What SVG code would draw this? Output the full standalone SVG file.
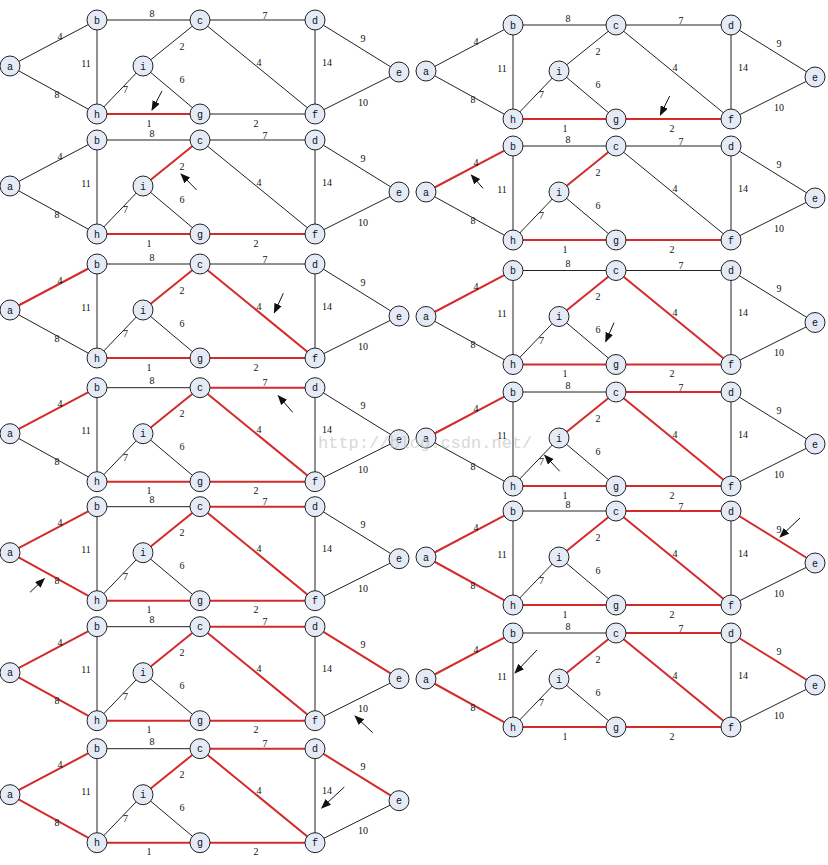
<svg xmlns="http://www.w3.org/2000/svg" width="828" height="865" viewBox="0 0 828 865">
<style>
.e{stroke:#222;stroke-width:1;fill:none}
.r{stroke:#d42a2a;stroke-width:2;fill:none}
.node circle{fill:#e4ebf7;stroke:#222;stroke-width:1}
.node text{font-family:"Liberation Mono",monospace;font-size:10px;text-anchor:middle;fill:#111}
.w{font-family:"Liberation Serif",serif;font-size:10px;text-anchor:middle;fill:#111}
.ar{stroke:#111;stroke-width:1;fill:none;marker-end:url(#head)}
.wm{font-family:"Liberation Mono",monospace;font-size:17px;fill:#c8c8c8;opacity:0.7}
</style>
<defs>
<marker id="head" viewBox="0 0 10 8" markerWidth="10" markerHeight="8" refX="9" refY="4" orient="auto" markerUnits="userSpaceOnUse"><path d="M0,0 L10,4 L0,8 z" fill="#111"/></marker>
<g id="wts">
<text class="w" x="152" y="16.5">8</text><text class="w" x="265" y="18.5">7</text><text class="w" x="60" y="39.5">4</text><text class="w" x="86" y="66.5">11</text><text class="w" x="182" y="49.5">2</text><text class="w" x="259" y="65.5">4</text><text class="w" x="327" y="65.5">14</text><text class="w" x="363" y="41.5">9</text><text class="w" x="57" y="97.5">8</text><text class="w" x="125.5" y="93">7</text><text class="w" x="182" y="82.5">6</text><text class="w" x="363" y="105.5">10</text><text class="w" x="149" y="126.5">1</text><text class="w" x="256" y="126.5">2</text>
</g>
</defs>
<rect width="828" height="865" fill="#fff"/>

<!-- Step 1 -->
<g id="step1" transform="translate(0,0)">
<g id="step1-connectors">
<line class="e" x1="10" y1="66" x2="97" y2="20"/><line class="e" x1="10" y1="66" x2="97" y2="114"/><line class="e" x1="97" y1="20" x2="200" y2="20"/><line class="e" x1="97" y1="20" x2="97" y2="114"/><line class="e" x1="200" y1="20" x2="315" y2="20"/><line class="e" x1="200" y1="20" x2="143" y2="66"/><line class="e" x1="200" y1="20" x2="315" y2="114"/><line class="e" x1="315" y1="20" x2="399" y2="72"/><line class="e" x1="315" y1="20" x2="315" y2="114"/><line class="e" x1="399" y1="72" x2="315" y2="114"/><line class="e" x1="97" y1="114" x2="143" y2="66"/><line class="r" x1="97" y1="114" x2="200" y2="114"/><line class="e" x1="143" y1="66" x2="200" y2="114"/><line class="e" x1="200" y1="114" x2="315" y2="114"/>
<path class="ar" d="M162,91 L152,110"/>
</g>
<use href="#wts"/>
<g id="s1-a" class="node"><circle cx="10" cy="66" r="10"/><text x="10" y="69.5">a</text></g>
<g id="s1-b" class="node"><circle cx="97" cy="20" r="10"/><text x="97" y="23.5">b</text></g>
<g id="s1-c" class="node"><circle cx="200" cy="20" r="10"/><text x="200" y="23.5">c</text></g>
<g id="s1-d" class="node"><circle cx="315" cy="20" r="10"/><text x="315" y="23.5">d</text></g>
<g id="s1-e" class="node"><circle cx="399" cy="72" r="10"/><text x="399" y="75.5">e</text></g>
<g id="s1-i" class="node"><circle cx="143" cy="66" r="10"/><text x="143" y="69.5">i</text></g>
<g id="s1-h" class="node"><circle cx="97" cy="114" r="10"/><text x="97" y="117.5">h</text></g>
<g id="s1-g" class="node"><circle cx="200" cy="114" r="10"/><text x="200" y="117.5">g</text></g>
<g id="s1-f" class="node"><circle cx="315" cy="114" r="10"/><text x="315" y="117.5">f</text></g>
</g>

<!-- Step 2 -->
<g id="step2" transform="translate(416,5)">
<g id="step2-connectors">
<line class="e" x1="10" y1="66" x2="97" y2="20"/><line class="e" x1="10" y1="66" x2="97" y2="114"/><line class="e" x1="97" y1="20" x2="200" y2="20"/><line class="e" x1="97" y1="20" x2="97" y2="114"/><line class="e" x1="200" y1="20" x2="315" y2="20"/><line class="e" x1="200" y1="20" x2="143" y2="66"/><line class="e" x1="200" y1="20" x2="315" y2="114"/><line class="e" x1="315" y1="20" x2="399" y2="72"/><line class="e" x1="315" y1="20" x2="315" y2="114"/><line class="e" x1="399" y1="72" x2="315" y2="114"/><line class="e" x1="97" y1="114" x2="143" y2="66"/><line class="r" x1="97" y1="114" x2="200" y2="114"/><line class="e" x1="143" y1="66" x2="200" y2="114"/><line class="r" x1="200" y1="114" x2="315" y2="114"/>
<path class="ar" d="M253.7,91 L244.3,110"/>
</g>
<use href="#wts"/>
<g id="s2-a" class="node"><circle cx="10" cy="66" r="10"/><text x="10" y="69.5">a</text></g>
<g id="s2-b" class="node"><circle cx="97" cy="20" r="10"/><text x="97" y="23.5">b</text></g>
<g id="s2-c" class="node"><circle cx="200" cy="20" r="10"/><text x="200" y="23.5">c</text></g>
<g id="s2-d" class="node"><circle cx="315" cy="20" r="10"/><text x="315" y="23.5">d</text></g>
<g id="s2-e" class="node"><circle cx="399" cy="72" r="10"/><text x="399" y="75.5">e</text></g>
<g id="s2-i" class="node"><circle cx="143" cy="66" r="10"/><text x="143" y="69.5">i</text></g>
<g id="s2-h" class="node"><circle cx="97" cy="114" r="10"/><text x="97" y="117.5">h</text></g>
<g id="s2-g" class="node"><circle cx="200" cy="114" r="10"/><text x="200" y="117.5">g</text></g>
<g id="s2-f" class="node"><circle cx="315" cy="114" r="10"/><text x="315" y="117.5">f</text></g>
</g>

<!-- Step 3 -->
<g id="step3" transform="translate(0,120)">
<g id="step3-connectors">
<line class="e" x1="10" y1="66" x2="97" y2="20"/><line class="e" x1="10" y1="66" x2="97" y2="114"/><line class="e" x1="97" y1="20" x2="200" y2="20"/><line class="e" x1="97" y1="20" x2="97" y2="114"/><line class="e" x1="200" y1="20" x2="315" y2="20"/><line class="r" x1="200" y1="20" x2="143" y2="66"/><line class="e" x1="200" y1="20" x2="315" y2="114"/><line class="e" x1="315" y1="20" x2="399" y2="72"/><line class="e" x1="315" y1="20" x2="315" y2="114"/><line class="e" x1="399" y1="72" x2="315" y2="114"/><line class="e" x1="97" y1="114" x2="143" y2="66"/><line class="r" x1="97" y1="114" x2="200" y2="114"/><line class="e" x1="143" y1="66" x2="200" y2="114"/><line class="r" x1="200" y1="114" x2="315" y2="114"/>
<path class="ar" d="M196.7,70 L181,54"/>
</g>
<use href="#wts"/>
<g id="s3-a" class="node"><circle cx="10" cy="66" r="10"/><text x="10" y="69.5">a</text></g>
<g id="s3-b" class="node"><circle cx="97" cy="20" r="10"/><text x="97" y="23.5">b</text></g>
<g id="s3-c" class="node"><circle cx="200" cy="20" r="10"/><text x="200" y="23.5">c</text></g>
<g id="s3-d" class="node"><circle cx="315" cy="20" r="10"/><text x="315" y="23.5">d</text></g>
<g id="s3-e" class="node"><circle cx="399" cy="72" r="10"/><text x="399" y="75.5">e</text></g>
<g id="s3-i" class="node"><circle cx="143" cy="66" r="10"/><text x="143" y="69.5">i</text></g>
<g id="s3-h" class="node"><circle cx="97" cy="114" r="10"/><text x="97" y="117.5">h</text></g>
<g id="s3-g" class="node"><circle cx="200" cy="114" r="10"/><text x="200" y="117.5">g</text></g>
<g id="s3-f" class="node"><circle cx="315" cy="114" r="10"/><text x="315" y="117.5">f</text></g>
</g>

<!-- Step 4 -->
<g id="step4" transform="translate(416,126)">
<g id="step4-connectors">
<line class="r" x1="10" y1="66" x2="97" y2="20"/><line class="e" x1="10" y1="66" x2="97" y2="114"/><line class="e" x1="97" y1="20" x2="200" y2="20"/><line class="e" x1="97" y1="20" x2="97" y2="114"/><line class="e" x1="200" y1="20" x2="315" y2="20"/><line class="r" x1="200" y1="20" x2="143" y2="66"/><line class="e" x1="200" y1="20" x2="315" y2="114"/><line class="e" x1="315" y1="20" x2="399" y2="72"/><line class="e" x1="315" y1="20" x2="315" y2="114"/><line class="e" x1="399" y1="72" x2="315" y2="114"/><line class="e" x1="97" y1="114" x2="143" y2="66"/><line class="r" x1="97" y1="114" x2="200" y2="114"/><line class="e" x1="143" y1="66" x2="200" y2="114"/><line class="r" x1="200" y1="114" x2="315" y2="114"/>
<path class="ar" d="M67,62.3 L55.3,49"/>
</g>
<use href="#wts"/>
<g id="s4-a" class="node"><circle cx="10" cy="66" r="10"/><text x="10" y="69.5">a</text></g>
<g id="s4-b" class="node"><circle cx="97" cy="20" r="10"/><text x="97" y="23.5">b</text></g>
<g id="s4-c" class="node"><circle cx="200" cy="20" r="10"/><text x="200" y="23.5">c</text></g>
<g id="s4-d" class="node"><circle cx="315" cy="20" r="10"/><text x="315" y="23.5">d</text></g>
<g id="s4-e" class="node"><circle cx="399" cy="72" r="10"/><text x="399" y="75.5">e</text></g>
<g id="s4-i" class="node"><circle cx="143" cy="66" r="10"/><text x="143" y="69.5">i</text></g>
<g id="s4-h" class="node"><circle cx="97" cy="114" r="10"/><text x="97" y="117.5">h</text></g>
<g id="s4-g" class="node"><circle cx="200" cy="114" r="10"/><text x="200" y="117.5">g</text></g>
<g id="s4-f" class="node"><circle cx="315" cy="114" r="10"/><text x="315" y="117.5">f</text></g>
</g>

<!-- Step 5 -->
<g id="step5" transform="translate(0,244)">
<g id="step5-connectors">
<line class="r" x1="10" y1="66" x2="97" y2="20"/><line class="e" x1="10" y1="66" x2="97" y2="114"/><line class="e" x1="97" y1="20" x2="200" y2="20"/><line class="e" x1="97" y1="20" x2="97" y2="114"/><line class="e" x1="200" y1="20" x2="315" y2="20"/><line class="r" x1="200" y1="20" x2="143" y2="66"/><line class="r" x1="200" y1="20" x2="315" y2="114"/><line class="e" x1="315" y1="20" x2="399" y2="72"/><line class="e" x1="315" y1="20" x2="315" y2="114"/><line class="e" x1="399" y1="72" x2="315" y2="114"/><line class="e" x1="97" y1="114" x2="143" y2="66"/><line class="r" x1="97" y1="114" x2="200" y2="114"/><line class="e" x1="143" y1="66" x2="200" y2="114"/><line class="r" x1="200" y1="114" x2="315" y2="114"/>
<path class="ar" d="M283.3,49.3 L274.3,68.7"/>
</g>
<use href="#wts"/>
<g id="s5-a" class="node"><circle cx="10" cy="66" r="10"/><text x="10" y="69.5">a</text></g>
<g id="s5-b" class="node"><circle cx="97" cy="20" r="10"/><text x="97" y="23.5">b</text></g>
<g id="s5-c" class="node"><circle cx="200" cy="20" r="10"/><text x="200" y="23.5">c</text></g>
<g id="s5-d" class="node"><circle cx="315" cy="20" r="10"/><text x="315" y="23.5">d</text></g>
<g id="s5-e" class="node"><circle cx="399" cy="72" r="10"/><text x="399" y="75.5">e</text></g>
<g id="s5-i" class="node"><circle cx="143" cy="66" r="10"/><text x="143" y="69.5">i</text></g>
<g id="s5-h" class="node"><circle cx="97" cy="114" r="10"/><text x="97" y="117.5">h</text></g>
<g id="s5-g" class="node"><circle cx="200" cy="114" r="10"/><text x="200" y="117.5">g</text></g>
<g id="s5-f" class="node"><circle cx="315" cy="114" r="10"/><text x="315" y="117.5">f</text></g>
</g>

<!-- Step 6 -->
<g id="step6" transform="translate(416,250.5)">
<g id="step6-connectors">
<line class="r" x1="10" y1="66" x2="97" y2="20"/><line class="e" x1="10" y1="66" x2="97" y2="114"/><line class="e" x1="97" y1="20" x2="200" y2="20"/><line class="e" x1="97" y1="20" x2="97" y2="114"/><line class="e" x1="200" y1="20" x2="315" y2="20"/><line class="r" x1="200" y1="20" x2="143" y2="66"/><line class="r" x1="200" y1="20" x2="315" y2="114"/><line class="e" x1="315" y1="20" x2="399" y2="72"/><line class="e" x1="315" y1="20" x2="315" y2="114"/><line class="e" x1="399" y1="72" x2="315" y2="114"/><line class="e" x1="97" y1="114" x2="143" y2="66"/><line class="r" x1="97" y1="114" x2="200" y2="114"/><line class="e" x1="143" y1="66" x2="200" y2="114"/><line class="r" x1="200" y1="114" x2="315" y2="114"/>
<path class="ar" d="M198,72.2 L189.7,91.2"/>
</g>
<use href="#wts"/>
<g id="s6-a" class="node"><circle cx="10" cy="66" r="10"/><text x="10" y="69.5">a</text></g>
<g id="s6-b" class="node"><circle cx="97" cy="20" r="10"/><text x="97" y="23.5">b</text></g>
<g id="s6-c" class="node"><circle cx="200" cy="20" r="10"/><text x="200" y="23.5">c</text></g>
<g id="s6-d" class="node"><circle cx="315" cy="20" r="10"/><text x="315" y="23.5">d</text></g>
<g id="s6-e" class="node"><circle cx="399" cy="72" r="10"/><text x="399" y="75.5">e</text></g>
<g id="s6-i" class="node"><circle cx="143" cy="66" r="10"/><text x="143" y="69.5">i</text></g>
<g id="s6-h" class="node"><circle cx="97" cy="114" r="10"/><text x="97" y="117.5">h</text></g>
<g id="s6-g" class="node"><circle cx="200" cy="114" r="10"/><text x="200" y="117.5">g</text></g>
<g id="s6-f" class="node"><circle cx="315" cy="114" r="10"/><text x="315" y="117.5">f</text></g>
</g>

<!-- Step 7 -->
<g id="step7" transform="translate(0,367.7)">
<g id="step7-connectors">
<line class="r" x1="10" y1="66" x2="97" y2="20"/><line class="e" x1="10" y1="66" x2="97" y2="114"/><line class="e" x1="97" y1="20" x2="200" y2="20"/><line class="e" x1="97" y1="20" x2="97" y2="114"/><line class="r" x1="200" y1="20" x2="315" y2="20"/><line class="r" x1="200" y1="20" x2="143" y2="66"/><line class="r" x1="200" y1="20" x2="315" y2="114"/><line class="e" x1="315" y1="20" x2="399" y2="72"/><line class="e" x1="315" y1="20" x2="315" y2="114"/><line class="e" x1="399" y1="72" x2="315" y2="114"/><line class="e" x1="97" y1="114" x2="143" y2="66"/><line class="r" x1="97" y1="114" x2="200" y2="114"/><line class="e" x1="143" y1="66" x2="200" y2="114"/><line class="r" x1="200" y1="114" x2="315" y2="114"/>
<path class="ar" d="M292.7,44.6 L278.3,28"/>
</g>
<use href="#wts"/>
<g id="s7-a" class="node"><circle cx="10" cy="66" r="10"/><text x="10" y="69.5">a</text></g>
<g id="s7-b" class="node"><circle cx="97" cy="20" r="10"/><text x="97" y="23.5">b</text></g>
<g id="s7-c" class="node"><circle cx="200" cy="20" r="10"/><text x="200" y="23.5">c</text></g>
<g id="s7-d" class="node"><circle cx="315" cy="20" r="10"/><text x="315" y="23.5">d</text></g>
<g id="s7-e" class="node"><circle cx="399" cy="72" r="10"/><text x="399" y="75.5">e</text></g>
<g id="s7-i" class="node"><circle cx="143" cy="66" r="10"/><text x="143" y="69.5">i</text></g>
<g id="s7-h" class="node"><circle cx="97" cy="114" r="10"/><text x="97" y="117.5">h</text></g>
<g id="s7-g" class="node"><circle cx="200" cy="114" r="10"/><text x="200" y="117.5">g</text></g>
<g id="s7-f" class="node"><circle cx="315" cy="114" r="10"/><text x="315" y="117.5">f</text></g>
</g>

<!-- Step 8 -->
<g id="step8" transform="translate(416,372)">
<g id="step8-connectors">
<line class="r" x1="10" y1="66" x2="97" y2="20"/><line class="e" x1="10" y1="66" x2="97" y2="114"/><line class="e" x1="97" y1="20" x2="200" y2="20"/><line class="e" x1="97" y1="20" x2="97" y2="114"/><line class="r" x1="200" y1="20" x2="315" y2="20"/><line class="r" x1="200" y1="20" x2="143" y2="66"/><line class="r" x1="200" y1="20" x2="315" y2="114"/><line class="e" x1="315" y1="20" x2="399" y2="72"/><line class="e" x1="315" y1="20" x2="315" y2="114"/><line class="e" x1="399" y1="72" x2="315" y2="114"/><line class="e" x1="97" y1="114" x2="143" y2="66"/><line class="r" x1="97" y1="114" x2="200" y2="114"/><line class="e" x1="143" y1="66" x2="200" y2="114"/><line class="r" x1="200" y1="114" x2="315" y2="114"/>
<path class="ar" d="M143.7,99.3 L128.7,83.3"/>
</g>
<use href="#wts"/>
<g id="s8-a" class="node"><circle cx="10" cy="66" r="10"/><text x="10" y="69.5">a</text></g>
<g id="s8-b" class="node"><circle cx="97" cy="20" r="10"/><text x="97" y="23.5">b</text></g>
<g id="s8-c" class="node"><circle cx="200" cy="20" r="10"/><text x="200" y="23.5">c</text></g>
<g id="s8-d" class="node"><circle cx="315" cy="20" r="10"/><text x="315" y="23.5">d</text></g>
<g id="s8-e" class="node"><circle cx="399" cy="72" r="10"/><text x="399" y="75.5">e</text></g>
<g id="s8-i" class="node"><circle cx="143" cy="66" r="10"/><text x="143" y="69.5">i</text></g>
<g id="s8-h" class="node"><circle cx="97" cy="114" r="10"/><text x="97" y="117.5">h</text></g>
<g id="s8-g" class="node"><circle cx="200" cy="114" r="10"/><text x="200" y="117.5">g</text></g>
<g id="s8-f" class="node"><circle cx="315" cy="114" r="10"/><text x="315" y="117.5">f</text></g>
</g>

<!-- Step 9 -->
<g id="step9" transform="translate(0,486.7)">
<g id="step9-connectors">
<line class="r" x1="10" y1="66" x2="97" y2="20"/><line class="r" x1="10" y1="66" x2="97" y2="114"/><line class="e" x1="97" y1="20" x2="200" y2="20"/><line class="e" x1="97" y1="20" x2="97" y2="114"/><line class="r" x1="200" y1="20" x2="315" y2="20"/><line class="r" x1="200" y1="20" x2="143" y2="66"/><line class="r" x1="200" y1="20" x2="315" y2="114"/><line class="e" x1="315" y1="20" x2="399" y2="72"/><line class="e" x1="315" y1="20" x2="315" y2="114"/><line class="e" x1="399" y1="72" x2="315" y2="114"/><line class="e" x1="97" y1="114" x2="143" y2="66"/><line class="r" x1="97" y1="114" x2="200" y2="114"/><line class="e" x1="143" y1="66" x2="200" y2="114"/><line class="r" x1="200" y1="114" x2="315" y2="114"/>
<path class="ar" d="M30,105.6 L44.3,92"/>
</g>
<use href="#wts"/>
<g id="s9-a" class="node"><circle cx="10" cy="66" r="10"/><text x="10" y="69.5">a</text></g>
<g id="s9-b" class="node"><circle cx="97" cy="20" r="10"/><text x="97" y="23.5">b</text></g>
<g id="s9-c" class="node"><circle cx="200" cy="20" r="10"/><text x="200" y="23.5">c</text></g>
<g id="s9-d" class="node"><circle cx="315" cy="20" r="10"/><text x="315" y="23.5">d</text></g>
<g id="s9-e" class="node"><circle cx="399" cy="72" r="10"/><text x="399" y="75.5">e</text></g>
<g id="s9-i" class="node"><circle cx="143" cy="66" r="10"/><text x="143" y="69.5">i</text></g>
<g id="s9-h" class="node"><circle cx="97" cy="114" r="10"/><text x="97" y="117.5">h</text></g>
<g id="s9-g" class="node"><circle cx="200" cy="114" r="10"/><text x="200" y="117.5">g</text></g>
<g id="s9-f" class="node"><circle cx="315" cy="114" r="10"/><text x="315" y="117.5">f</text></g>
</g>

<!-- Step 10 -->
<g id="step10" transform="translate(416,491)">
<g id="step10-connectors">
<line class="r" x1="10" y1="66" x2="97" y2="20"/><line class="r" x1="10" y1="66" x2="97" y2="114"/><line class="e" x1="97" y1="20" x2="200" y2="20"/><line class="e" x1="97" y1="20" x2="97" y2="114"/><line class="r" x1="200" y1="20" x2="315" y2="20"/><line class="r" x1="200" y1="20" x2="143" y2="66"/><line class="r" x1="200" y1="20" x2="315" y2="114"/><line class="r" x1="315" y1="20" x2="399" y2="72"/><line class="e" x1="315" y1="20" x2="315" y2="114"/><line class="e" x1="399" y1="72" x2="315" y2="114"/><line class="e" x1="97" y1="114" x2="143" y2="66"/><line class="r" x1="97" y1="114" x2="200" y2="114"/><line class="e" x1="143" y1="66" x2="200" y2="114"/><line class="r" x1="200" y1="114" x2="315" y2="114"/>
<path class="ar" d="M384,27 L364,46"/>
</g>
<use href="#wts"/>
<g id="s10-a" class="node"><circle cx="10" cy="66" r="10"/><text x="10" y="69.5">a</text></g>
<g id="s10-b" class="node"><circle cx="97" cy="20" r="10"/><text x="97" y="23.5">b</text></g>
<g id="s10-c" class="node"><circle cx="200" cy="20" r="10"/><text x="200" y="23.5">c</text></g>
<g id="s10-d" class="node"><circle cx="315" cy="20" r="10"/><text x="315" y="23.5">d</text></g>
<g id="s10-e" class="node"><circle cx="399" cy="72" r="10"/><text x="399" y="75.5">e</text></g>
<g id="s10-i" class="node"><circle cx="143" cy="66" r="10"/><text x="143" y="69.5">i</text></g>
<g id="s10-h" class="node"><circle cx="97" cy="114" r="10"/><text x="97" y="117.5">h</text></g>
<g id="s10-g" class="node"><circle cx="200" cy="114" r="10"/><text x="200" y="117.5">g</text></g>
<g id="s10-f" class="node"><circle cx="315" cy="114" r="10"/><text x="315" y="117.5">f</text></g>
</g>

<!-- Step 11 -->
<g id="step11" transform="translate(0,606.7)">
<g id="step11-connectors">
<line class="r" x1="10" y1="66" x2="97" y2="20"/><line class="r" x1="10" y1="66" x2="97" y2="114"/><line class="e" x1="97" y1="20" x2="200" y2="20"/><line class="e" x1="97" y1="20" x2="97" y2="114"/><line class="r" x1="200" y1="20" x2="315" y2="20"/><line class="r" x1="200" y1="20" x2="143" y2="66"/><line class="r" x1="200" y1="20" x2="315" y2="114"/><line class="r" x1="315" y1="20" x2="399" y2="72"/><line class="e" x1="315" y1="20" x2="315" y2="114"/><line class="e" x1="399" y1="72" x2="315" y2="114"/><line class="e" x1="97" y1="114" x2="143" y2="66"/><line class="r" x1="97" y1="114" x2="200" y2="114"/><line class="e" x1="143" y1="66" x2="200" y2="114"/><line class="r" x1="200" y1="114" x2="315" y2="114"/>
<path class="ar" d="M372.7,126 L355,109.3"/>
</g>
<use href="#wts"/>
<g id="s11-a" class="node"><circle cx="10" cy="66" r="10"/><text x="10" y="69.5">a</text></g>
<g id="s11-b" class="node"><circle cx="97" cy="20" r="10"/><text x="97" y="23.5">b</text></g>
<g id="s11-c" class="node"><circle cx="200" cy="20" r="10"/><text x="200" y="23.5">c</text></g>
<g id="s11-d" class="node"><circle cx="315" cy="20" r="10"/><text x="315" y="23.5">d</text></g>
<g id="s11-e" class="node"><circle cx="399" cy="72" r="10"/><text x="399" y="75.5">e</text></g>
<g id="s11-i" class="node"><circle cx="143" cy="66" r="10"/><text x="143" y="69.5">i</text></g>
<g id="s11-h" class="node"><circle cx="97" cy="114" r="10"/><text x="97" y="117.5">h</text></g>
<g id="s11-g" class="node"><circle cx="200" cy="114" r="10"/><text x="200" y="117.5">g</text></g>
<g id="s11-f" class="node"><circle cx="315" cy="114" r="10"/><text x="315" y="117.5">f</text></g>
</g>

<!-- Step 12 -->
<g id="step12" transform="translate(416,613)">
<g id="step12-connectors">
<line class="r" x1="10" y1="66" x2="97" y2="20"/><line class="r" x1="10" y1="66" x2="97" y2="114"/><line class="e" x1="97" y1="20" x2="200" y2="20"/><line class="e" x1="97" y1="20" x2="97" y2="114"/><line class="r" x1="200" y1="20" x2="315" y2="20"/><line class="r" x1="200" y1="20" x2="143" y2="66"/><line class="r" x1="200" y1="20" x2="315" y2="114"/><line class="r" x1="315" y1="20" x2="399" y2="72"/><line class="e" x1="315" y1="20" x2="315" y2="114"/><line class="e" x1="399" y1="72" x2="315" y2="114"/><line class="e" x1="97" y1="114" x2="143" y2="66"/><line class="r" x1="97" y1="114" x2="200" y2="114"/><line class="e" x1="143" y1="66" x2="200" y2="114"/><line class="r" x1="200" y1="114" x2="315" y2="114"/>
<path class="ar" d="M121,37 L99,60"/>
</g>
<use href="#wts"/>
<g id="s12-a" class="node"><circle cx="10" cy="66" r="10"/><text x="10" y="69.5">a</text></g>
<g id="s12-b" class="node"><circle cx="97" cy="20" r="10"/><text x="97" y="23.5">b</text></g>
<g id="s12-c" class="node"><circle cx="200" cy="20" r="10"/><text x="200" y="23.5">c</text></g>
<g id="s12-d" class="node"><circle cx="315" cy="20" r="10"/><text x="315" y="23.5">d</text></g>
<g id="s12-e" class="node"><circle cx="399" cy="72" r="10"/><text x="399" y="75.5">e</text></g>
<g id="s12-i" class="node"><circle cx="143" cy="66" r="10"/><text x="143" y="69.5">i</text></g>
<g id="s12-h" class="node"><circle cx="97" cy="114" r="10"/><text x="97" y="117.5">h</text></g>
<g id="s12-g" class="node"><circle cx="200" cy="114" r="10"/><text x="200" y="117.5">g</text></g>
<g id="s12-f" class="node"><circle cx="315" cy="114" r="10"/><text x="315" y="117.5">f</text></g>
</g>

<!-- Step 13 -->
<g id="step13" transform="translate(0,728.7)">
<g id="step13-connectors">
<line class="r" x1="10" y1="66" x2="97" y2="20"/><line class="r" x1="10" y1="66" x2="97" y2="114"/><line class="e" x1="97" y1="20" x2="200" y2="20"/><line class="e" x1="97" y1="20" x2="97" y2="114"/><line class="r" x1="200" y1="20" x2="315" y2="20"/><line class="r" x1="200" y1="20" x2="143" y2="66"/><line class="r" x1="200" y1="20" x2="315" y2="114"/><line class="r" x1="315" y1="20" x2="399" y2="72"/><line class="e" x1="315" y1="20" x2="315" y2="114"/><line class="e" x1="399" y1="72" x2="315" y2="114"/><line class="e" x1="97" y1="114" x2="143" y2="66"/><line class="r" x1="97" y1="114" x2="200" y2="114"/><line class="e" x1="143" y1="66" x2="200" y2="114"/><line class="r" x1="200" y1="114" x2="315" y2="114"/>
<path class="ar" d="M344.3,58.3 L321.7,79.3"/>
</g>
<use href="#wts"/>
<g id="s13-a" class="node"><circle cx="10" cy="66" r="10"/><text x="10" y="69.5">a</text></g>
<g id="s13-b" class="node"><circle cx="97" cy="20" r="10"/><text x="97" y="23.5">b</text></g>
<g id="s13-c" class="node"><circle cx="200" cy="20" r="10"/><text x="200" y="23.5">c</text></g>
<g id="s13-d" class="node"><circle cx="315" cy="20" r="10"/><text x="315" y="23.5">d</text></g>
<g id="s13-e" class="node"><circle cx="399" cy="72" r="10"/><text x="399" y="75.5">e</text></g>
<g id="s13-i" class="node"><circle cx="143" cy="66" r="10"/><text x="143" y="69.5">i</text></g>
<g id="s13-h" class="node"><circle cx="97" cy="114" r="10"/><text x="97" y="117.5">h</text></g>
<g id="s13-g" class="node"><circle cx="200" cy="114" r="10"/><text x="200" y="117.5">g</text></g>
<g id="s13-f" class="node"><circle cx="315" cy="114" r="10"/><text x="315" y="117.5">f</text></g>
</g>

<text class="wm" x="318" y="448">http://blog.csdn.net/</text>
</svg>
